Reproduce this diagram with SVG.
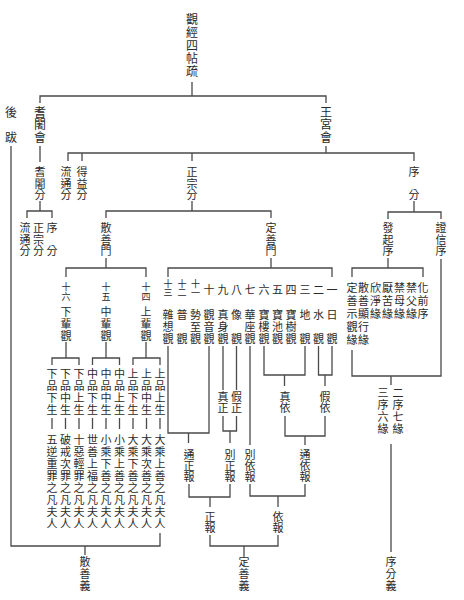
<svg xmlns="http://www.w3.org/2000/svg" width="464" height="600" viewBox="0 0 464 600">
<style>
text{font-family:"Noto Sans CJK TC","Noto Sans CJK JP",sans-serif;fill:#2a2a2a;font-size:11px;writing-mode:vertical-rl;text-anchor:start;letter-spacing:0.5px}
.b{font-size:12px}
.t{font-size:12px;letter-spacing:1px}
.s{font-size:9px;letter-spacing:1px}
.s0{font-size:9px;letter-spacing:0px}
.l75{letter-spacing:0.75px}
.l1{letter-spacing:1px}
.l0{letter-spacing:0px}
.l2{letter-spacing:2px}
.l8{letter-spacing:0.8px}
#connectors path{fill:none;stroke:#4a4a4a;stroke-width:1.3}
</style>
<rect width="464" height="600" fill="#ffffff"/>
<g id="connectors">
<path d="M192 82V96M40 103V96H326V103"/>
<path d="M11 146V546H160V533M85 546V555"/>
<path d="M40 146V162M40 201V211M27 218V211H52V218"/>
<path d="M326 146V153M68 161V153H414V161M82 153V161M192 153V161"/>
<path d="M192 201V211M106 218V211H271V218"/>
<path d="M414 201V212M388 219V212H441V219"/>
<path d="M106 258V268M66 277V268H146V277"/>
<path d="M271 258V268M168 277V268H332V277"/>
<path d="M388 258V268M352 277V268H423V277"/>
<path d="M441 259V376H352V350M391 376V385M391 444V552"/>
<path d="M66 342V358M52 365V358H79V365M106 342V358M92.5 365V358H119.5V365M146 342V358M133 365V358H160V365"/>
<path d="M52 418V429M65.5 418V429M79 418V429M92.5 418V429M106 418V429M119.5 418V429M133 418V429M146.5 418V429M160 418V429"/>
<path d="M168 346V433H209V346M188.5 433V443"/>
<path d="M223 346V390M236.5 346V390M223 416V431H236.5V416M230 431V443"/>
<path d="M250 346V445"/>
<path d="M264 346V375H305V346M284.5 375V386M318.5 346V375H332V346M325 375V386"/>
<path d="M285 416V436H325V416M305 436V445"/>
<path d="M189 484V497H230V484M210 497V507M250 484V496H305V484M278 496V507"/>
<path d="M210 535V546H278V535M244 546V556"/>
</g>
<g id="n-title"><text class="t" x="192" y="13">觀經四帖疏</text></g>
<g id="n-houba"><text class="b" x="11" y="106">後　跋</text></g>
<g id="n-qishehui"><text class="b" x="40" y="106">耆闍會</text></g>
<g id="n-wanggonghui"><text class="b" x="326" y="106">王宮會</text></g>
<g id="n-qishefen"><text x="40" y="166.5">耆闍分</text></g>
<g id="n-liutong1"><text x="66" y="166.5">流通分</text></g>
<g id="n-deyi"><text x="82" y="166.5">得益分</text></g>
<g id="n-zhengzong1"><text x="192" y="166.5">正宗分</text></g>
<g id="n-xufen1"><text x="414" y="166.5">序　分</text></g>
<g id="n-liutong2"><text x="25" y="222.5">流通分</text></g>
<g id="n-zhengzong2"><text x="38.5" y="222.5">正宗分</text></g>
<g id="n-xufen2"><text x="52" y="222.5">序　分</text></g>
<g id="n-sanshanmen"><text x="106" y="222.5">散善門</text></g>
<g id="n-dingshanmen"><text x="271" y="222.5">定善門</text></g>
<g id="n-faqixu"><text x="388" y="222.5">發起序</text></g>
<g id="n-zhengxinxu"><text x="441" y="222.5">證信序</text></g>
<g id="n-16"><text class="s" x="66" y="282">十六</text><text class="l75" x="66" y="306.5">下輩觀</text></g>
<g id="n-15"><text class="s" x="106" y="282">十五</text><text class="l75" x="106" y="306.5">中輩觀</text></g>
<g id="n-14"><text class="s" x="146" y="282">十四</text><text class="l75" x="146" y="306.5">上輩觀</text></g>
<g id="n-pin">
<text class="l1" x="52" y="368.5">下品下生</text>
<text class="l1" x="65.5" y="368.5">下品中生</text>
<text class="l1" x="79" y="368.5">下品上生</text>
<text class="l1" x="92.5" y="368.5">中品下生</text>
<text class="l1" x="106" y="368.5">中品中生</text>
<text class="l1" x="119.5" y="368.5">中品上生</text>
<text class="l1" x="133" y="368.5">上品下生</text>
<text class="l1" x="146.5" y="368.5">上品中生</text>
<text class="l1" x="160" y="368.5">上品上生</text>
</g>
<g id="n-fanfu">
<text class="l1" x="52" y="434.5">五逆重罪之凡夫人</text>
<text class="l1" x="65.5" y="434.5">破戒次罪之凡夫人</text>
<text class="l1" x="79" y="434.5">十惡輕罪之凡夫人</text>
<text class="l1" x="92.5" y="434.5">世善上福之凡夫人</text>
<text class="l1" x="106" y="434.5">小乘下善之凡夫人</text>
<text class="l1" x="119.5" y="434.5">小乘上善之凡夫人</text>
<text class="l1" x="133" y="434.5">大乘下善之凡夫人</text>
<text class="l1" x="146.5" y="434.5">大乘次善之凡夫人</text>
<text class="l1" x="160" y="434.5">大乘上善之凡夫人</text>
</g>
<g id="n-13guan">
<text class="s0" x="168" y="279.5">十三</text>
<text class="s0" x="182" y="279.5">十二</text>
<text class="s0" x="195.5" y="279.5">十一</text>
<text x="209" y="284.5">十</text>
<text x="223" y="284.5">九</text>
<text x="236.5" y="284.5">八</text>
<text x="250" y="284.5">七</text>
<text x="264" y="284.5">六</text>
<text x="277.5" y="284.5">五</text>
<text x="291" y="284.5">四</text>
<text x="305" y="284.5">三</text>
<text x="318.5" y="284.5">二</text>
<text x="332" y="284.5">一</text>
<text class="l75" x="168" y="309.5">雜想觀</text>
<text class="l75" x="182" y="309.5">普　觀</text>
<text class="l75" x="195.5" y="309.5">勢至觀</text>
<text class="l75" x="209" y="309.5">觀音觀</text>
<text class="l75" x="223" y="309.5">真身觀</text>
<text class="l75" x="236.5" y="309.5">像　觀</text>
<text class="l75" x="250" y="309.5">華座觀</text>
<text class="l75" x="264" y="309.5">寶樓觀</text>
<text class="l75" x="277.5" y="309.5">寶池觀</text>
<text class="l75" x="291" y="309.5">寶樹觀</text>
<text class="l75" x="305" y="309.5">地　觀</text>
<text class="l75" x="318.5" y="309.5">水　觀</text>
<text class="l75" x="332" y="309.5">日　觀</text>
</g>
<g id="n-zhenzheng"><text class="l0" x="223" y="391.5">真正</text></g>
<g id="n-jiazheng"><text class="l0" x="236.5" y="391.5">假正</text></g>
<g id="n-zhenyi"><text class="l0" x="285" y="391.5">真依</text></g>
<g id="n-jiayi"><text class="l0" x="325" y="391.5">假依</text></g>
<g id="n-tongzhengbao"><text class="l0" x="189" y="449.5">通正報</text></g>
<g id="n-biezhengbao"><text class="l0" x="230" y="449.5">別正報</text></g>
<g id="n-bieyibao"><text class="l0" x="250" y="449.5">別依報</text></g>
<g id="n-tongyibao"><text class="l0" x="305" y="449.5">通依報</text></g>
<g id="n-zhengbao"><text class="l0" x="210" y="511.5">正報</text></g>
<g id="n-yibao"><text class="l0" x="278" y="511.5">依報</text></g>
<g id="n-qiyuan">
<text class="l2" x="352" y="282.5">定善示觀緣</text>
<text class="l2" x="363.5" y="282.5">散善顯行緣</text>
<text class="l2" x="375.5" y="282.5">欣淨緣</text>
<text class="l2" x="387.5" y="282.5">厭苦緣</text>
<text class="l2" x="399.5" y="282.5">禁母緣</text>
<text class="l2" x="411.5" y="282.5">禁父緣</text>
<text class="l2" x="423" y="282.5">化前序</text>
</g>
<g id="n-erxu"><text class="l8" x="398" y="387.5">二序七緣</text></g>
<g id="n-sanxu"><text class="l8" x="383" y="387.5">三序六緣</text></g>
<g id="n-sanshanyi"><text class="l1" x="85" y="556.5">散善義</text></g>
<g id="n-dingshanyi"><text class="l1" x="244" y="556.5">定善義</text></g>
<g id="n-xufenyi"><text class="l1" x="391" y="556.5">序分義</text></g>
</svg>
